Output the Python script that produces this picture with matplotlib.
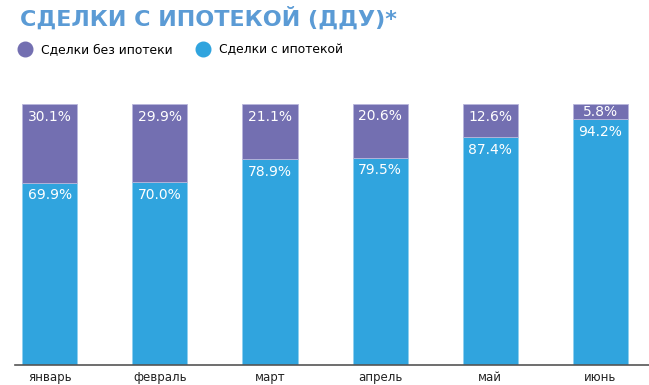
import matplotlib.pyplot as plt
from matplotlib.lines import Line2D

months = ["январь", "февраль", "март", "апрель", "май", "июнь"]
with_mortgage = [69.9, 70.0, 78.9, 79.5, 87.4, 94.2]
without_mortgage = [30.1, 29.9, 21.1, 20.6, 12.6, 5.8]

BLUE = "#30a4de"
PURPLE = "#736fb1"
TITLE_COLOR = "#5b9bd5"

plt.rcParams['font.family'] = ['DejaVu Sans']

fig = plt.figure(figsize=(6.49, 3.85), dpi=100)
ax = fig.add_axes([15 / 649, 20 / 385, 1 - 15 / 649, 261 / 385])

x = list(range(len(months)))
ax.bar(x, with_mortgage, width=0.5, color=BLUE, edgecolor="#8fd0f0", linewidth=0.6)
ax.bar(x, without_mortgage, width=0.5, bottom=with_mortgage, color=PURPLE,
       edgecolor="#b9b6dc", linewidth=0.6)

for i in x:
    ax.text(i, with_mortgage[i] - 2.2, f"{with_mortgage[i]:.1f}%", ha="center", va="top",
            color="white", fontsize=10)
    top = with_mortgage[i] + without_mortgage[i]
    if without_mortgage[i] < 8:
        ax.text(i, with_mortgage[i] + without_mortgage[i] / 2, f"{without_mortgage[i]:.1f}%",
                ha="center", va="center", color="white", fontsize=10)
    else:
        ax.text(i, top - 2.2, f"{without_mortgage[i]:.1f}%", ha="center", va="top",
                color="white", fontsize=10)

ax.set_xlim(-0.314, 5.44)
ax.set_ylim(0, 100)
ax.set_yticks([])
ax.set_xticks(x)
ax.set_xticklabels(months, fontsize=8.5, color="#222222")
ax.tick_params(axis="x", length=0, pad=4)
for s in ["top", "right", "left"]:
    ax.spines[s].set_visible(False)
ax.spines["bottom"].set_color("#555555")
ax.spines["bottom"].set_linewidth(1.2)

fig.text(20 / 649, 1 - 18 / 385, "СДЕЛКИ С ИПОТЕКОЙ (ДДУ)*", color=TITLE_COLOR,
         fontsize=16, fontweight="bold", va="center", ha="left")

handles = [Line2D([], [], marker="o", linestyle="", markersize=10.5, color=PURPLE),
           Line2D([], [], marker="o", linestyle="", markersize=10.5, color=BLUE)]
fig.legend(handles, ["Сделки без ипотеки", "Сделки с ипотекой"], loc="center left",
           bbox_to_anchor=(6 / 649, 1 - 50 / 385), ncol=2, frameon=False, fontsize=8.9,
           handletextpad=0.75, columnspacing=1.8, handlelength=1.2)

fig.savefig("out.png", dpi=100)
